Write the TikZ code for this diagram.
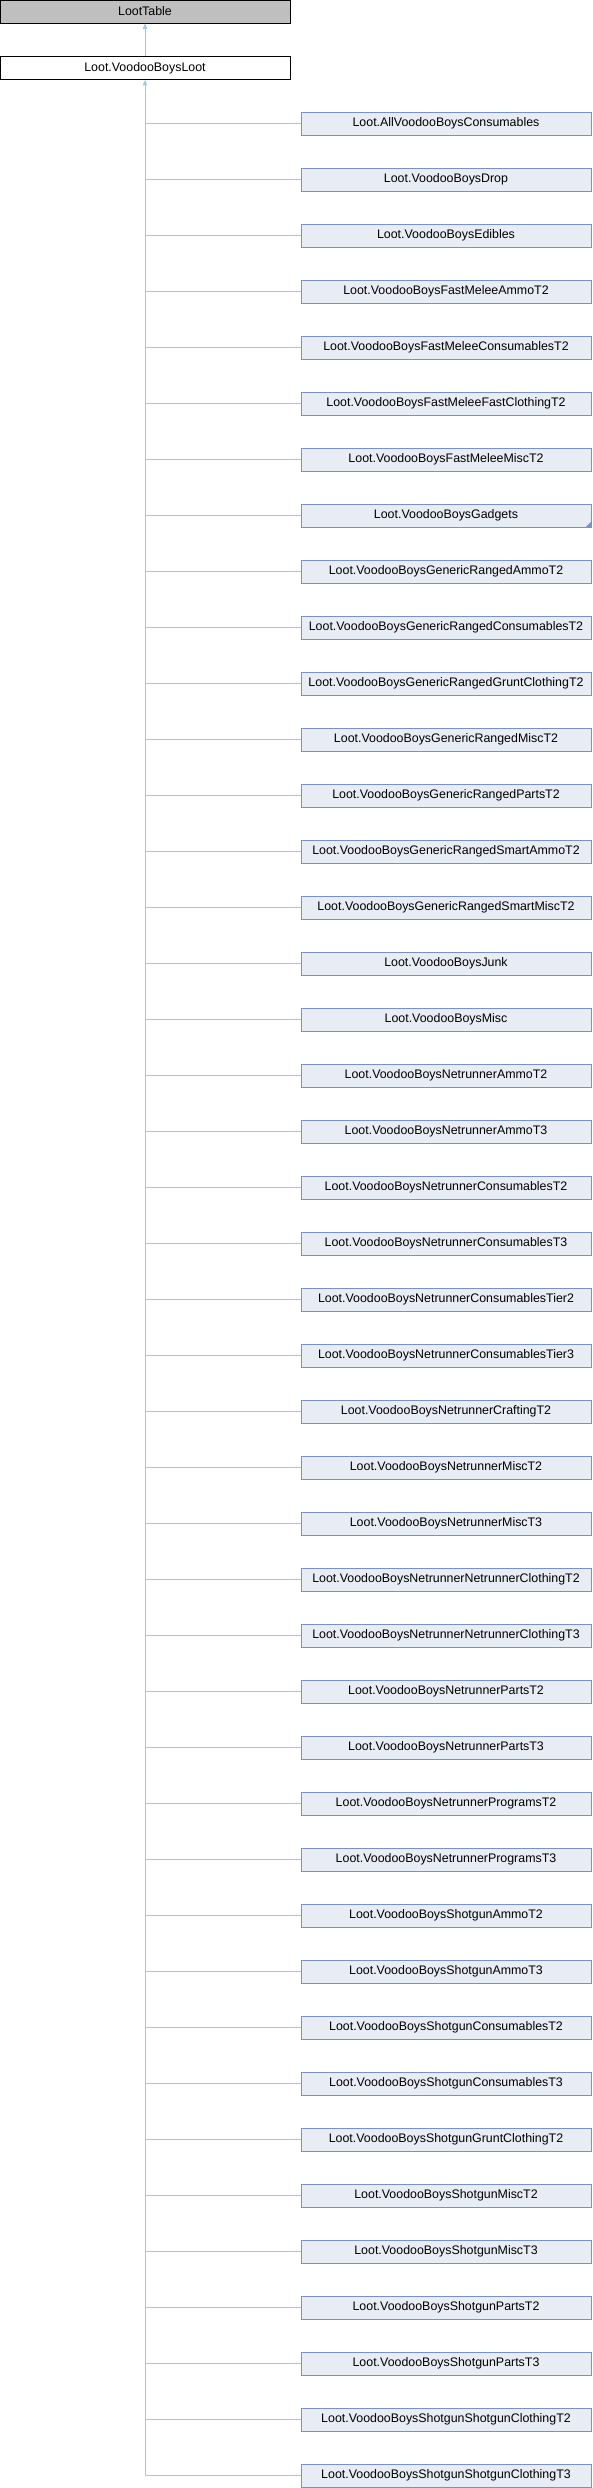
\documentclass[tikz,border=0pt]{standalone}
\usepackage{fontspec}
\setmainfont{Liberation Sans}
\usepackage{tikz}
\usetikzlibrary{arrows.meta}
\usepackage{xcolor}
\definecolor{edgeblue}{HTML}{9BCDEB}
\definecolor{leaffill}{HTML}{E8ECF5}
\definecolor{leafdraw}{HTML}{7A90C6}
\tikzset{
    basebox/.style={draw=black, fill=black!25, line width=0.8pt, minimum width=290, minimum height=23, inner sep=0pt, font=\fontsize{12.4}{14}\selectfont},
    rootbox/.style={basebox, fill=white},
    leafbox/.style={basebox, draw=leafdraw, fill=leaffill},
    inherit/.style={draw=edgeblue, line width=0.8pt, {Triangle[width=4.5pt,length=5.5pt]}-},
    branch/.style={draw=edgeblue, line width=0.8pt}
}

\begin{document}
\begin{tikzpicture}[x=1pt,y=1pt]
    \useasboundingbox (0,0) rectangle (592,-2488);
    % Base classes
    \node[basebox] (loottable) at (145,-11.5) {LootTable};
    \node[rootbox] (vbloot) at (145,-68) {Loot.VoodooBoysLoot};
    \draw[inherit] (loottable.south) -- (vbloot.north);

    % Derived loot tables
    \node[leafbox] (c1) at (446,-123.5) {Loot.AllVoodooBoysConsumables};
    \node[leafbox] (c2) at (446,-179.5) {Loot.VoodooBoysDrop};
    \node[leafbox] (c3) at (446,-235.5) {Loot.VoodooBoysEdibles};
    \node[leafbox] (c4) at (446,-291.5) {Loot.VoodooBoysFastMeleeAmmoT2};
    \node[leafbox] (c5) at (446,-347.5) {Loot.VoodooBoysFastMeleeConsumablesT2};
    \node[leafbox] (c6) at (446,-403.5) {Loot.VoodooBoysFastMeleeFastClothingT2};
    \node[leafbox] (c7) at (446,-459.5) {Loot.VoodooBoysFastMeleeMiscT2};
    \node[leafbox] (c8) at (446,-515.5) {Loot.VoodooBoysGadgets};
    \node[leafbox] (c9) at (446,-571.5) {Loot.VoodooBoysGenericRangedAmmoT2};
    \node[leafbox] (c10) at (446,-627.5) {Loot.VoodooBoysGenericRangedConsumablesT2};
    \node[leafbox] (c11) at (446,-683.5) {Loot.VoodooBoysGenericRangedGruntClothingT2};
    \node[leafbox] (c12) at (446,-739.5) {Loot.VoodooBoysGenericRangedMiscT2};
    \node[leafbox] (c13) at (446,-795.5) {Loot.VoodooBoysGenericRangedPartsT2};
    \node[leafbox] (c14) at (446,-851.5) {Loot.VoodooBoysGenericRangedSmartAmmoT2};
    \node[leafbox] (c15) at (446,-907.5) {Loot.VoodooBoysGenericRangedSmartMiscT2};
    \node[leafbox] (c16) at (446,-963.5) {Loot.VoodooBoysJunk};
    \node[leafbox] (c17) at (446,-1019.5) {Loot.VoodooBoysMisc};
    \node[leafbox] (c18) at (446,-1075.5) {Loot.VoodooBoysNetrunnerAmmoT2};
    \node[leafbox] (c19) at (446,-1131.5) {Loot.VoodooBoysNetrunnerAmmoT3};
    \node[leafbox] (c20) at (446,-1187.5) {Loot.VoodooBoysNetrunnerConsumablesT2};
    \node[leafbox] (c21) at (446,-1243.5) {Loot.VoodooBoysNetrunnerConsumablesT3};
    \node[leafbox] (c22) at (446,-1299.5) {Loot.VoodooBoysNetrunnerConsumablesTier2};
    \node[leafbox] (c23) at (446,-1355.5) {Loot.VoodooBoysNetrunnerConsumablesTier3};
    \node[leafbox] (c24) at (446,-1411.5) {Loot.VoodooBoysNetrunnerCraftingT2};
    \node[leafbox] (c25) at (446,-1467.5) {Loot.VoodooBoysNetrunnerMiscT2};
    \node[leafbox] (c26) at (446,-1523.5) {Loot.VoodooBoysNetrunnerMiscT3};
    \node[leafbox] (c27) at (446,-1579.5) {Loot.VoodooBoysNetrunnerNetrunnerClothingT2};
    \node[leafbox] (c28) at (446,-1635.5) {Loot.VoodooBoysNetrunnerNetrunnerClothingT3};
    \node[leafbox] (c29) at (446,-1691.5) {Loot.VoodooBoysNetrunnerPartsT2};
    \node[leafbox] (c30) at (446,-1747.5) {Loot.VoodooBoysNetrunnerPartsT3};
    \node[leafbox] (c31) at (446,-1803.5) {Loot.VoodooBoysNetrunnerProgramsT2};
    \node[leafbox] (c32) at (446,-1859.5) {Loot.VoodooBoysNetrunnerProgramsT3};
    \node[leafbox] (c33) at (446,-1915.5) {Loot.VoodooBoysShotgunAmmoT2};
    \node[leafbox] (c34) at (446,-1971.5) {Loot.VoodooBoysShotgunAmmoT3};
    \node[leafbox] (c35) at (446,-2027.5) {Loot.VoodooBoysShotgunConsumablesT2};
    \node[leafbox] (c36) at (446,-2083.5) {Loot.VoodooBoysShotgunConsumablesT3};
    \node[leafbox] (c37) at (446,-2139.5) {Loot.VoodooBoysShotgunGruntClothingT2};
    \node[leafbox] (c38) at (446,-2195.5) {Loot.VoodooBoysShotgunMiscT2};
    \node[leafbox] (c39) at (446,-2251.5) {Loot.VoodooBoysShotgunMiscT3};
    \node[leafbox] (c40) at (446,-2307.5) {Loot.VoodooBoysShotgunPartsT2};
    \node[leafbox] (c41) at (446,-2363.5) {Loot.VoodooBoysShotgunPartsT3};
    \node[leafbox] (c42) at (446,-2419.5) {Loot.VoodooBoysShotgunShotgunClothingT2};
    \node[leafbox] (c43) at (446,-2475.5) {Loot.VoodooBoysShotgunShotgunClothingT3};

    % Marker for further derived classes
    \fill[leafdraw] (c8.south east) -- ++(0,6) -- ++(-6,-6) -- cycle;

    % Inheritance tree
    \draw[inherit] (vbloot.south) |- (c43.west);
    \foreach \i in {1,...,42}
        \draw[branch] (vbloot.south) ++(0,-6) |- (c\i.west);
\end{tikzpicture}
\end{document}
